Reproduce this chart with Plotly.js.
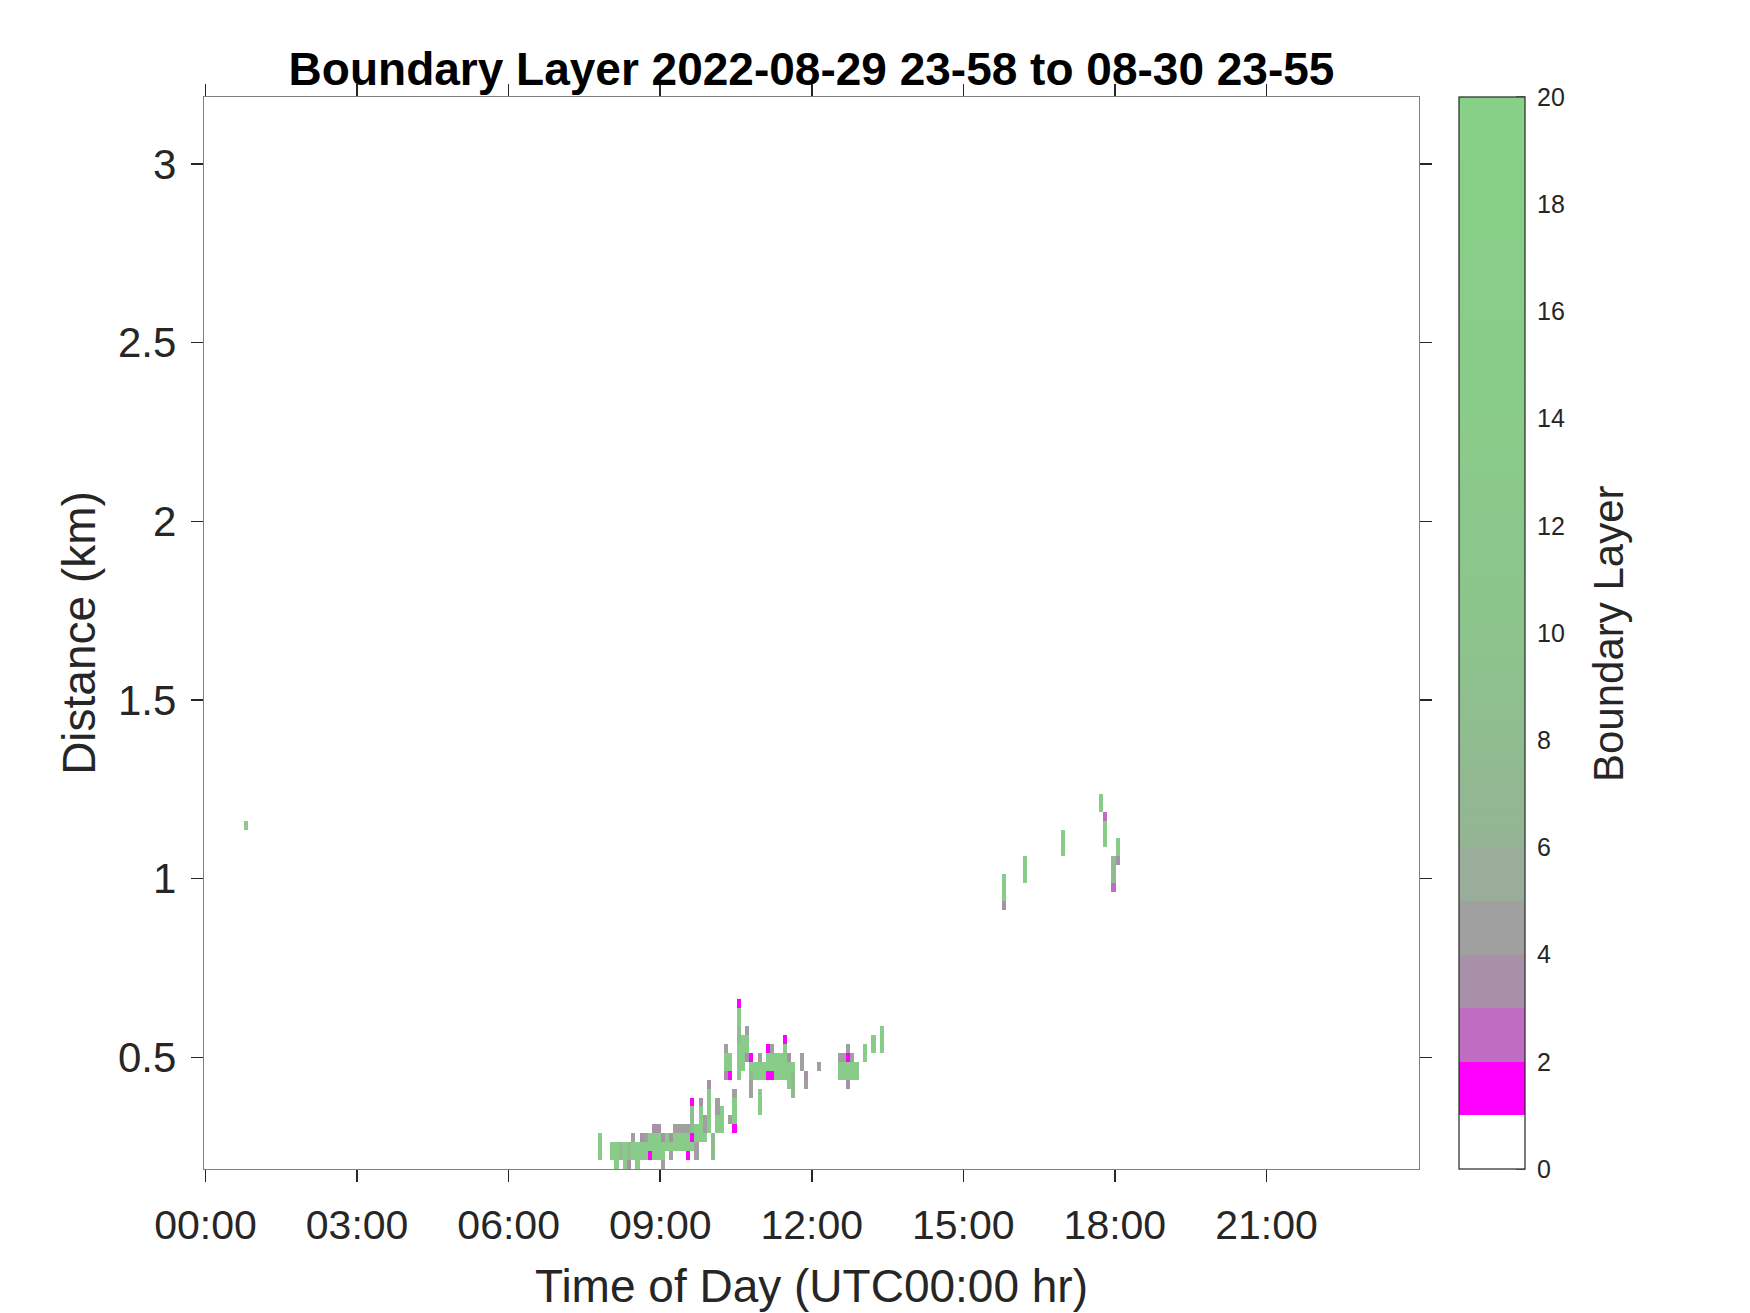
<!DOCTYPE html>
<html>
<head>
<meta charset="utf-8">
<script src="https://cdn.plot.ly/plotly-3.0.1.min.js"></script>
<style>html,body{margin:0;padding:0;background:#fff;}#chart{width:1750px;height:1313px;}</style>
</head>
<body>
<div id="chart"></div>
<script>
// ---- Data ----
// Each run: one time column (sample time, HH:MM), from a lowest to a highest range gate (km), one value.
const runTime = [
  "00:48",
  "07:48","08:03","08:08","08:13","08:18","08:23","08:23","08:28","08:28","08:33",
  "08:38","08:38","08:43","08:43","08:48","08:48","08:53","08:53","08:58","08:58",
  "09:03","09:03","09:03","09:08","09:13","09:13","09:13","09:18","09:18","09:23","09:23",
  "09:28","09:28","09:33","09:33","09:33","09:38","09:38","09:38","09:38",
  "09:43","09:43","09:48","09:48","09:53","09:53","09:58","09:58","10:03","10:08","10:08","10:13",
  "10:18","10:18","10:18","10:23","10:23","10:23","10:28","10:28","10:28",
  "10:33","10:33","10:33","10:33","10:38","10:43","10:43","10:43",
  "10:48","10:48","10:48","10:48","10:53","10:58","10:58","10:58","11:03",
  "11:08","11:08","11:08","11:13","11:13","11:13","11:18","11:23","11:28","11:28",
  "11:33","11:33","11:38","11:38","11:48","11:53","11:53","12:08",
  "12:33","12:33","12:38","12:38","12:43","12:43","12:43","12:43","12:48","12:48","12:53",
  "13:03","13:13","13:23",
  "15:48","15:48","16:13","16:58","17:43","17:48","17:48","17:58","17:58","18:03","18:03"
];
const runLow = [
  1.15,
  0.225,0.225,0.2,0.225,0.2,0.2,0.225,0.225,0.275,0.2,
  0.225,0.275,0.225,0.275,0.225,0.25,0.225,0.3,0.225,0.3,
  0.2,0.225,0.275,0.25,0.225,0.25,0.275,0.25,0.3,0.25,0.3,
  0.25,0.3,0.225,0.25,0.3,0.25,0.275,0.3,0.375,
  0.225,0.275,0.275,0.375,0.275,0.3,0.3,0.425,0.225,0.3,0.35,0.3,
  0.45,0.475,0.525,0.325,0.45,0.475,0.3,0.325,0.4,
  0.45,0.55,0.6,0.65,0.475,0.5,0.525,0.575,
  0.4,0.45,0.475,0.5,0.45,0.35,0.45,0.5,0.45,
  0.45,0.475,0.525,0.45,0.475,0.525,0.45,0.45,0.45,0.55,
  0.425,0.5,0.4,0.475,0.475,0.425,0.45,0.475,
  0.45,0.5,0.45,0.5,0.425,0.45,0.5,0.525,0.45,0.5,0.45,
  0.5,0.525,0.525,
  0.925,0.95,1.0,1.075,1.2,1.1,1.175,0.975,1.0,1.05,1.075
];
const runHigh = [
  1.15,
  0.275,0.25,0.25,0.25,0.25,0.2,0.25,0.25,0.275,0.25,
  0.25,0.275,0.25,0.275,0.225,0.275,0.275,0.3,0.275,0.3,
  0.2,0.25,0.275,0.275,0.225,0.25,0.275,0.275,0.3,0.275,0.3,
  0.275,0.3,0.225,0.275,0.3,0.25,0.275,0.35,0.375,
  0.25,0.3,0.35,0.375,0.275,0.325,0.4,0.425,0.275,0.325,0.375,0.35,
  0.45,0.5,0.525,0.325,0.45,0.5,0.3,0.375,0.4,
  0.525,0.575,0.625,0.65,0.55,0.5,0.55,0.575,
  0.425,0.45,0.475,0.5,0.475,0.4,0.475,0.5,0.475,
  0.45,0.5,0.525,0.45,0.5,0.525,0.5,0.5,0.525,0.55,
  0.475,0.5,0.45,0.475,0.5,0.425,0.45,0.475,
  0.475,0.5,0.475,0.5,0.425,0.475,0.5,0.525,0.475,0.5,0.475,
  0.525,0.55,0.575,
  0.925,1.0,1.05,1.125,1.225,1.15,1.175,0.975,1.05,1.05,1.1
];
const runValue = [
  12,
  15,15,15,8,15,3.5,8,15,4.5,15,
  15,3.5,15,4.5,1.5,15,15,3.5,15,3.5,
  4.5,15,3.5,15,4.5,15,3.5,15,4.5,15,4.5,
  15,4.5,1.5,15,4.5,15,1.5,8,1.5,
  4.5,15,15,3.5,15,4.5,15,3.5,8,15,4.5,15,
  3.5,15,4.5,4.5,1.5,15,1.5,15,4.5,
  15,8,15,1.5,15,3.5,15,4.5,
  4.5,8,15,1.5,15,15,15,4.5,15,
  1.5,15,1.5,1.5,15,4.5,15,15,15,1.5,
  15,3.5,8,15,4.5,4.5,3.5,4.5,
  15,4.5,15,4.5,3.5,15,1.5,4.5,15,4.5,15,
  15,15,15,
  3.5,15,15,15,15,15,2.5,2.5,8,3.5,15
];
const colorbarTicks = [0, 2, 4, 6, 8, 10, 12, 14, 16, 18, 20];
const xTickHours = [0, 3, 6, 9, 12, 15, 18, 21];
const xTickLabels = ["00:00", "03:00", "06:00", "09:00", "12:00", "15:00", "18:00", "21:00"];
const yTickValues = [0.5, 1, 1.5, 2, 2.5, 3];
const yTickLabels = ["0.5", "1", "1.5", "2", "2.5", "3"];

// ---- Build the grid the heatmap needs (5-min samples, 25 m gates) ----
const firstSampleMin = -2;   // 23:58 of the previous day
const stepMin = 5;
const nCols = 289;
const gate0 = 0.2, gateStep = 0.025, nRows = 120;
const zMin = 0, zMax = 20;
const xGrid = [], yGrid = [];
for (let k = 0; k < nCols; k++) xGrid.push((firstSampleMin + stepMin * k) / 60);
for (let j = 0; j < nRows; j++) yGrid.push(+(gate0 + gateStep * j).toFixed(4));
const z = yGrid.map(() => xGrid.map(() => null));
for (let i = 0; i < runTime.length; i++) {
  const [hh, mm] = runTime[i].split(":").map(Number);
  const k = Math.round((hh * 60 + mm - firstSampleMin) / stepMin);
  const j0 = Math.round((runLow[i] - gate0) / gateStep);
  const j1 = Math.round((runHigh[i] - gate0) / gateStep);
  for (let j = j0; j <= j1; j++) z[j][k] = runValue[i];
}

const cs = [
  [0.00, "#ffffff"], [0.05, "#ffffff"],
  [0.05, "#ff00ff"], [0.10, "#ff00ff"],
  [0.10, "#c06cc0"], [0.15, "#c06cc0"],
  [0.15, "#a890a8"], [0.20, "#a890a8"],
  [0.20, "#a0a0a0"], [0.25, "#a0a0a0"],
  [0.25, "#9aac9a"], [0.30, "#9aac9a"],
  [0.30, "#94b494"], [0.40, "#90bc90"],
  [0.50, "#8cc48c"], [0.70, "#89cb89"], [1.00, "#87d187"]
];

const fontFamily = "Liberation Sans, Arial, sans-serif";

// colorbar geometry (paper units)
const cbX = 1.033, cbThick = 66, plotW = 1750 - 204 - 331;
const cbRight = cbX + cbThick / plotW;
const cbTickLen = 9 / plotW;

const trace = {
  type: "heatmap",
  x: xGrid, y: yGrid, z: z,
  zmin: zMin, zmax: zMax,
  colorscale: cs,
  hoverongaps: false,
  colorbar: {
    x: cbX, xanchor: "left", xpad: 0, ypad: 0,
    y: 0.5, yanchor: "middle", len: 1, lenmode: "fraction",
    thickness: cbThick, outlinecolor: "#262626", outlinewidth: 1.2,
    tickvals: colorbarTicks, ticks: "outside", ticklen: 7, tickwidth: 1, tickcolor: "rgba(0,0,0,0)",
    tickfont: { family: fontFamily, size: 25, color: "#262626" }
  }
};

// MATLAB-style inward tick marks on the right edge of the colour bar
const cbTickShapes = colorbarTicks.map(v => ({
  type: "line", xref: "paper", yref: "paper",
  x0: cbRight - cbTickLen, x1: cbRight,
  y0: (v - zMin) / (zMax - zMin), y1: (v - zMin) / (zMax - zMin),
  line: { color: "#262626", width: 1.2 }
}));

const titleFont = { family: fontFamily, size: 46, color: "#262626" };

const layout = {
  width: 1750, height: 1313,
  margin: { l: 204, r: 331, t: 97, b: 144, pad: 0 },
  paper_bgcolor: "#ffffff", plot_bgcolor: "#ffffff",
  showlegend: false,
  title: {
    text: "Boundary Layer 2022-08-29 23-58 to 08-30 23-55",
    x: 0.5, xref: "paper", xanchor: "center",
    y: 1 - 69 / 1313, yref: "container", yanchor: "middle",
    font: { family: fontFamily, size: 46, weight: "bold", color: "#000000" }
  },
  xaxis: {
    range: [-0.03, 24.02], tickmode: "array", tickvals: xTickHours, ticktext: xTickLabels,
    ticks: "outside", ticklen: 12, tickwidth: 1.5, tickcolor: "#262626",
    ticklabelstandoff: 8,
    showline: true, linecolor: "#808080", linewidth: 1.2, mirror: "ticks",
    showgrid: false, zeroline: false, tickfont: { family: fontFamily, size: 41, color: "#262626" },
    title: { text: "Time of Day (UTC00:00 hr)", font: titleFont, standoff: 22 }
  },
  yaxis: {
    range: [0.1875, 3.1875], tickmode: "array", tickvals: yTickValues, ticktext: yTickLabels,
    ticks: "outside", ticklen: 12, tickwidth: 1.5, tickcolor: "#262626",
    ticklabelstandoff: 6,
    showline: true, linecolor: "#808080", linewidth: 1.2, mirror: "ticks",
    showgrid: false, zeroline: false, tickfont: { family: fontFamily, size: 42, color: "#262626" },
    title: { text: "Distance (km)", font: titleFont, standoff: 8 }
  },
  shapes: cbTickShapes,
  annotations: [{
    text: "Boundary Layer", textangle: -90,
    xref: "paper", yref: "paper", x: (1608 - 204) / plotW, y: 0.5,
    xanchor: "center", yanchor: "middle", showarrow: false,
    font: { family: fontFamily, size: 42, color: "#262626" }
  }]
};

Plotly.newPlot("chart", [trace], layout, { displayModeBar: false, staticPlot: true });
</script>
</body>
</html>
